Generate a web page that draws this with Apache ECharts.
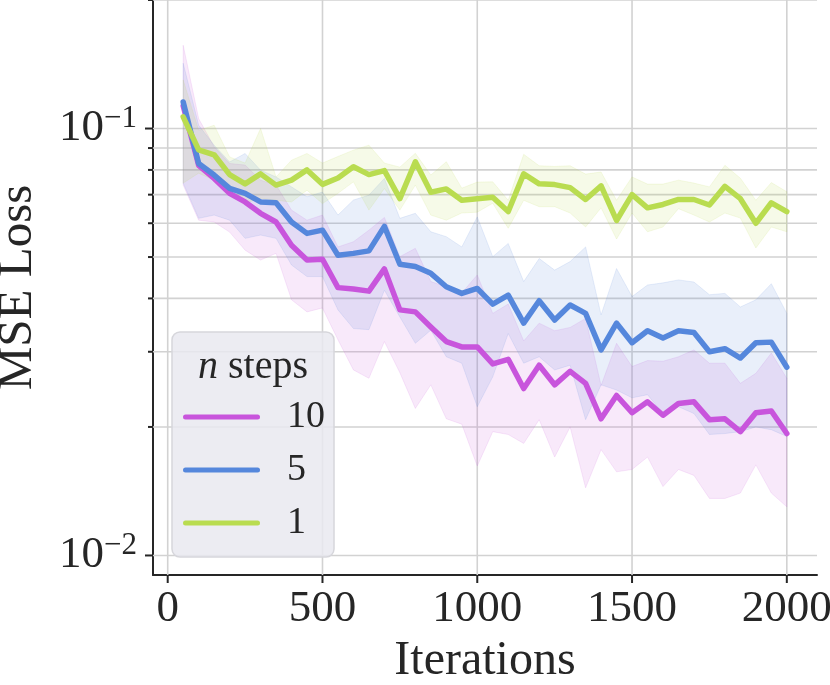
<!DOCTYPE html>
<html>
<head>
	<meta charset="utf-8" />
	<title>MSE Loss vs Iterations</title>
	<script src="https://cdn.jsdelivr.net/npm/echarts@6.0.0/dist/echarts.min.js"></script>
	<style>html,body{margin:0;padding:0;background:#fff;}</style>
</head>
<body>
	<div id="main" style="width:830px;height:685px;"></div>

	<script type="text/javascript">
		// x values (training iterations)
		var iterations = [50,100,150,200,250,300,350,400,450,500,550,600,650,700,750,800,850,900,950,1000,
			1050,1100,1150,1200,1250,1300,1350,1400,1450,1500,1550,1600,1650,1700,1750,1800,1850,1900,1950,2000];

		// n steps = 10
		var mean10 = [0.113,0.082,0.0764,0.0705,0.0673,0.0633,0.0604,0.0533,0.0492,0.0494,0.0424,0.0421,0.0416,0.0469,0.0376,0.0372,0.0343,0.0317,0.0308,0.0308,
			0.0281,0.0288,0.0246,0.0279,0.0251,0.027,0.0253,0.0209,0.0237,0.0216,0.0229,0.0213,0.0227,0.0229,0.0208,0.0209,0.0195,0.0216,0.0218,0.0193];
		var lo10 = [0.0737,0.061,0.0604,0.0572,0.0519,0.0492,0.051,0.0397,0.0372,0.038,0.032,0.0272,0.026,0.0317,0.0268,0.0221,0.0251,0.0209,0.0203,0.0162,
			0.0195,0.0192,0.0183,0.0208,0.017,0.02,0.0144,0.0177,0.0157,0.0159,0.017,0.0145,0.0159,0.0154,0.0136,0.0136,0.014,0.0163,0.014,0.013];
		var hi10 = [0.1567,0.1055,0.0906,0.0828,0.0821,0.0757,0.0737,0.0644,0.061,0.0627,0.0528,0.0543,0.0578,0.0619,0.0501,0.0524,0.0438,0.0426,0.0412,0.0454,
			0.0369,0.0388,0.0318,0.035,0.0336,0.0342,0.0359,0.025,0.0314,0.0277,0.0286,0.0285,0.0292,0.0303,0.0282,0.0282,0.0253,0.0267,0.0298,0.026];

		// n steps = 5
		var mean5 = [0.1154,0.0828,0.0778,0.0724,0.0705,0.0673,0.067,0.0604,0.0568,0.0578,0.0505,0.051,0.0517,0.059,0.0481,0.0475,0.0458,0.0426,0.0411,0.0422,
			0.0388,0.0407,0.035,0.0395,0.0356,0.0386,0.0369,0.0303,0.035,0.0315,0.0336,0.0323,0.0336,0.0333,0.030,0.0305,0.029,0.0315,0.0316,0.0276];
		var lo5 = [0.0745,0.0616,0.0627,0.061,0.0553,0.0563,0.0553,0.0479,0.045,0.045,0.0376,0.034,0.0338,0.0418,0.0362,0.0314,0.0337,0.0292,0.0282,0.0223,
			0.0262,0.0331,0.0282,0.0292,0.0272,0.0279,0.0208,0.0251,0.0244,0.0234,0.0238,0.0215,0.0223,0.0215,0.0192,0.0193,0.0195,0.02,0.0197,0.019];
		var hi5 = [0.1422,0.1018,0.0914,0.0835,0.0874,0.0799,0.077,0.073,0.0692,0.071,0.0627,0.068,0.0698,0.0764,0.0616,0.0633,0.0573,0.0558,0.0528,0.0621,
			0.0501,0.0538,0.0438,0.0496,0.0466,0.0488,0.0528,0.0366,0.047,0.0404,0.043,0.0435,0.0442,0.0437,0.0408,0.0411,0.0382,0.0397,0.0433,0.0369];

		// n steps = 1
		var mean1 = [0.1065,0.0891,0.0868,0.078,0.0742,0.0783,0.0737,0.0757,0.080,0.074,0.0766,0.0814,0.078,0.0797,0.0685,0.0836,0.0709,0.0722,0.0679,0.0685,
			0.069,0.0639,0.0783,0.0742,0.0739,0.0727,0.0682,0.0734,0.0609,0.070,0.0652,0.0664,0.0682,0.0682,0.0662,0.0732,0.0685,0.060,0.067,0.0639];
		var lo1 = [0.0745,0.0786,0.0757,0.0698,0.0668,0.0687,0.0679,0.0673,0.0717,0.0667,0.0705,0.075,0.0644,0.0724,0.0644,0.0737,0.0627,0.061,0.0634,0.0637,
			0.0668,0.0584,0.0679,0.0656,0.0656,0.0634,0.0588,0.0652,0.0551,0.0634,0.0573,0.0588,0.0649,0.0627,0.0604,0.0634,0.0617,0.0525,0.0588,0.0573];
		var hi1 = [0.130,0.099,0.1018,0.0858,0.083,0.1,0.077,0.0843,0.0874,0.083,0.086,0.089,0.0914,0.083,0.0812,0.0875,0.0778,0.0836,0.0725,0.0749,
			0.075,0.0679,0.087,0.0818,0.0815,0.0818,0.0782,0.0791,0.0679,0.077,0.0741,0.0741,0.0757,0.0745,0.073,0.082,0.0765,0.0679,0.0747,0.0711];

		// ticks and grid lines
		var xTicks = [0,500,1000,1500,2000];
		var yMajor = [0.01,0.1];
		var yMinor = [0.02,0.03,0.04,0.05,0.06,0.07,0.08,0.09,0.2];

		var serif = "'Liberation Serif', 'Times New Roman', serif";
		var ink = '#262626';
		var gridColor = '#d2d2d2';
		var c10 = '#c855dc', c5 = '#5587dc', c1 = '#b9dc50';
		// legend key: a thick line with round ends
		var keyIcon = 'path://M2.5,0 L74.5,0 A2.5,2.5 0 0 1 74.5,5 L2.5,5 A2.5,2.5 0 0 1 2.5,0 Z';

		function pairs(vals) {
			return iterations.map(function (x, i) { return [x, vals[i]]; });
		}

		// shaded band between lo and hi, drawn as one polygon
		function bandRender(lo, hi, color) {
			return function (params, api) {
				var pts = [];
				for (var i = 0; i < iterations.length; i++) pts.push(api.coord([iterations[i], hi[i]]));
				for (var j = iterations.length - 1; j >= 0; j--) pts.push(api.coord([iterations[j], lo[j]]));
				return {
					type: 'polygon',
					shape: { points: pts },
					style: { fill: color, stroke: color, lineWidth: 1, opacity: 0.13 }
				};
			};
		}

		function hGridRender(params, api) {
			var v = api.value(1);
			var y = api.coord([0, v])[1];
			var cs = params.coordSys;
			var len = yMajor.indexOf(v) >= 0 ? 8 : 5;
			return {
				type: 'group',
				children: [
					{ type: 'line', shape: { x1: cs.x, y1: y, x2: cs.x + cs.width, y2: y }, style: { stroke: gridColor, lineWidth: 1.6 } },
					{ type: 'line', shape: { x1: cs.x - len, y1: y, x2: cs.x, y2: y }, style: { stroke: ink, lineWidth: 2 } }
				]
			};
		}

		function vGridRender(params, api) {
			var v = api.value(0);
			var x = api.coord([v, 0.05])[0];
			var cs = params.coordSys;
			var yb = cs.y + cs.height;
			return {
				type: 'group',
				children: [
					{ type: 'line', shape: { x1: x, y1: cs.y, x2: x, y2: yb }, style: { stroke: gridColor, lineWidth: 1.6 } },
					{ type: 'line', shape: { x1: x, y1: yb, x2: x, y2: yb + 8 }, style: { stroke: ink, lineWidth: 2 } }
				]
			};
		}

		var myChart = echarts.init(document.getElementById('main'));

		var option = {
			animation: false,
			backgroundColor: '#ffffff',
			grid: { left: 153, right: 13, top: 0, bottom: 110, containLabel: false, outerBoundsMode: 'none' },
			xAxis: {
				type: 'value',
				min: -47.5,
				max: 2097.5,
				name: 'Iterations',
				nameLocation: 'middle',
				nameGap: 61,
				nameTextStyle: { fontFamily: serif, fontSize: 48, color: ink },
				axisLine: { onZero: false, lineStyle: { color: ink, width: 2 } },
				axisTick: { show: false },
				splitLine: { show: false },
				axisLabel: {
					margin: 12,
					fontFamily: serif, fontSize: 45, color: ink,
					formatter: function (v) { return xTicks.indexOf(v) >= 0 ? String(v) : ''; }
				}
			},
			yAxis: {
				type: 'log',
				logBase: 10,
				min: 0.009,
				max: 0.2,
				name: 'MSE Loss',
				nameLocation: 'middle',
				nameGap: 110,
				nameTextStyle: { fontFamily: serif, fontSize: 49, color: ink },
				axisLine: { show: true, onZero: false, lineStyle: { color: ink, width: 2 } },
				axisTick: { show: false },
				splitLine: { show: false },
				axisLabel: {
					margin: 16,
					formatter: function (v) {
						var e = Math.log(v) / Math.LN10;
						var r = Math.round(e);
						if (Math.abs(e - r) > 1e-6) return '';
						return '{b|10}{s|\u2212' + (-r) + '}';
					},
					rich: {
						b: { fontFamily: serif, fontSize: 45, color: ink, lineHeight: 50 },
						s: { fontFamily: serif, fontSize: 31, color: ink, lineHeight: 24, verticalAlign: 'top' }
					}
				}
			},
			legend: {
				data: [
					{ name: '10', icon: keyIcon, itemStyle: { color: c10 } },
					{ name: '5', icon: keyIcon, itemStyle: { color: c5 } },
					{ name: '1', icon: keyIcon, itemStyle: { color: c1 } }
				],
				orient: 'vertical',
				left: 172,
				top: 332,
				padding: [65, 9, 14, 11],
				itemWidth: 77,
				itemHeight: 5,
				itemGap: 13,
				selectedMode: false,
				backgroundColor: 'rgba(233,233,240,0.85)',
				borderColor: '#d6d6db',
				borderWidth: 1.5,
				borderRadius: 8,
				textStyle: { fontFamily: serif, fontSize: 38, color: ink, lineHeight: 40, padding: [0, 0, 0, 22] }
			},
			graphic: [{
				type: 'text',
				x: 253,
				y: 367,
				z: 100,
				style: {
					text: '{i|n} steps',
					align: 'center',
					verticalAlign: 'middle',
					font: "40px 'Liberation Serif', serif",
					fill: ink,
					rich: { i: { fontStyle: 'italic', fontFamily: serif, fontSize: 40, fill: ink } }
				}
			}],
			series: [
				{ type: 'custom', name: 'ygrid', z: 1, silent: true, renderItem: hGridRender,
					data: yMajor.concat(yMinor).map(function (v) { return [0, v]; }) },
				{ type: 'custom', name: 'xgrid', z: 1, silent: true, renderItem: vGridRender,
					data: xTicks.map(function (v) { return [v, 0.05]; }) },
				{ type: 'custom', name: 'band10', z: 2, silent: true, renderItem: bandRender(lo10, hi10, c10), data: [[iterations[0], mean10[0]]] },
				{ type: 'custom', name: 'band5', z: 2, silent: true, renderItem: bandRender(lo5, hi5, c5), data: [[iterations[0], mean5[0]]] },
				{ type: 'custom', name: 'band1', z: 2, silent: true, renderItem: bandRender(lo1, hi1, c1), data: [[iterations[0], mean1[0]]] },
				{ name: '10', type: 'line', z: 3, symbol: 'none', data: pairs(mean10),
					lineStyle: { color: c10, width: 5.5, cap: 'round', join: 'round' }, itemStyle: { color: c10 } },
				{ name: '5', type: 'line', z: 3, symbol: 'none', data: pairs(mean5),
					lineStyle: { color: c5, width: 5.5, cap: 'round', join: 'round' }, itemStyle: { color: c5 } },
				{ name: '1', type: 'line', z: 3, symbol: 'none', data: pairs(mean1),
					lineStyle: { color: c1, width: 5.5, cap: 'round', join: 'round' }, itemStyle: { color: c1 } }
			]
		};

		myChart.setOption(option);
	</script>
</body>
</html>
